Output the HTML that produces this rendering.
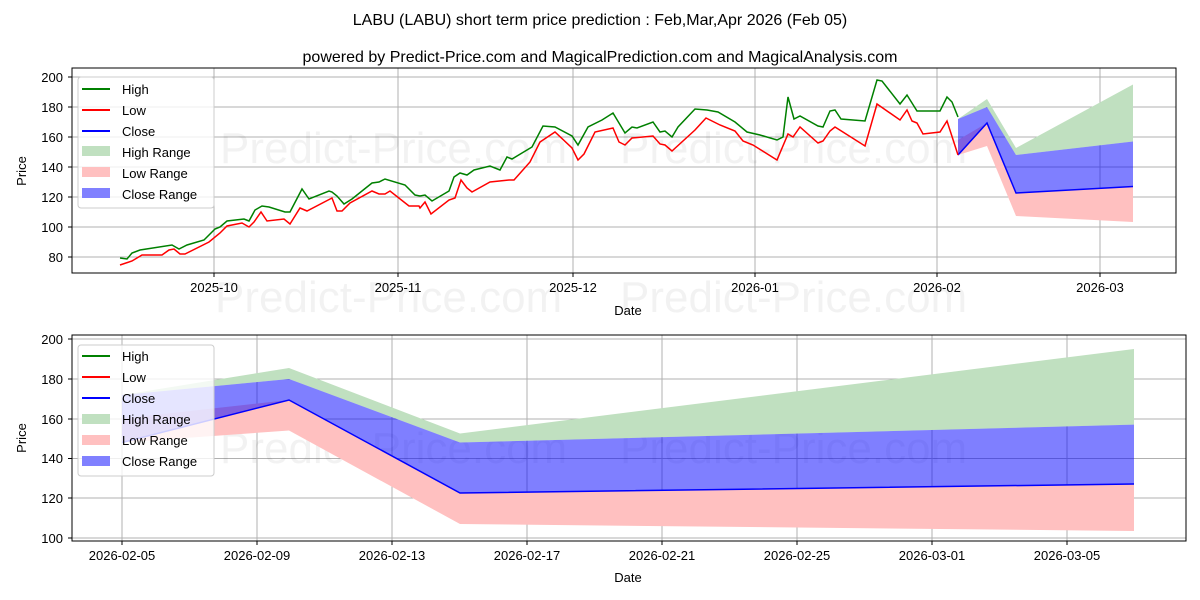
<!DOCTYPE html>
<html><head><meta charset="utf-8"><style>
body{margin:0;background:#fff;}
svg{display:block;font-family:"Liberation Sans","DejaVu Sans",sans-serif;}
</style></head><body>
<svg width="1200" height="600" viewBox="0 0 1200 600">
<rect width="1200" height="600" fill="#fff"/>
<text x="600" y="25" font-size="16" text-anchor="middle">LABU (LABU) short term price prediction : Feb,Mar,Apr 2026 (Feb 05)</text>
<text x="600" y="62" font-size="16" text-anchor="middle">powered by Predict-Price.com and MagicalPrediction.com and MagicalAnalysis.com</text>

<!-- TOP CHART -->
<g stroke="#b0b0b0" stroke-width="1">
<line x1="72" x2="1176" y1="257" y2="257"/><line x1="72" x2="1176" y1="227" y2="227"/><line x1="72" x2="1176" y1="197" y2="197"/><line x1="72" x2="1176" y1="167" y2="167"/><line x1="72" x2="1176" y1="137" y2="137"/><line x1="72" x2="1176" y1="107" y2="107"/><line x1="72" x2="1176" y1="77" y2="77"/>
<line x1="214" x2="214" y1="68" y2="273"/><line x1="398" x2="398" y1="68" y2="273"/><line x1="573" x2="573" y1="68" y2="273"/><line x1="755" x2="755" y1="68" y2="273"/><line x1="937" x2="937" y1="68" y2="273"/><line x1="1100" x2="1100" y1="68" y2="273"/>
</g>
<text x="220" y="163" font-size="44" fill="#000" fill-opacity="0.05">Predict-Price.com</text>
<text x="620" y="163" font-size="44" fill="#000" fill-opacity="0.05">Predict-Price.com</text>
<text x="215" y="312" font-size="44" fill="#000" fill-opacity="0.05">Predict-Price.com</text>
<text x="620" y="312" font-size="44" fill="#000" fill-opacity="0.05">Predict-Price.com</text>
<polygon points="958,119 987,107 1016,155 1133,141.5 1133,84.5 1016,148 987,99 958,119" fill="#c0e0c0"/>
<polygon points="958,155 987,146 1016,216 1133,222 1133,186.5 1016,193 987,123 958,140" fill="#ffc0c0"/>
<polygon points="958,155 987,123 1016,193 1133,186.5 1133,141.5 1016,155 987,107 958,119" fill="#0000ff" fill-opacity="0.5"/>
<polyline fill="none" stroke="#0000ff" stroke-width="1.5" points="958,155 987,123 1016,193 1133,186.5"/>
<polyline fill="none" stroke="#008000" stroke-width="1.5" points="120,258 127,259 132,253 140,250 172,245 179,249 187,245 204,240 215,229 220,227 227,221 244,219 249,221 255,210 262,206 269,207 285,212 290,212 302,189 309,199 329,191 332,192 337,196 344,204 352,199 372,183 379,182 385,179 405,185 415,195 420,196 425,195 432,201 449,191 454,177 460,173 467,175 474,170 490,166 500,170 507,157 512,159 522,153 532,147 543,126 555,127 572,136 578,145 588,127 602,120 613,113 625,133 632,127 637,128 653,122 660,132 665,131 672,137 678,127 695,109 707,110 718,112 735,122 747,132 760,135 777,140 783,137 788,97 794,119 800,116 818,126 823,127 830,111 835,110 841,119 865,121 877,80 882,81 900,104 907,95 917,111 940,111 947,97 952,102 958,117"/>
<polyline fill="none" stroke="#ff0000" stroke-width="1.5" points="120,265 132,261 142,255 162,255 169,250 174,249 180,254 185,254 209,242 220,233 227,226 242,223 249,227 254,222 261,212 267,221 284,219 290,224 300,208 307,211 332,198 337,211 342,211 350,203 372,191 379,194 385,194 390,191 409,206 419,206 420,208 425,202 431,214 449,200 455,198 461,180 467,188 472,192 490,182 509,180 514,180 522,171 530,162 540,142 555,132 572,148 578,160 584,154 595,132 613,128 619,142 625,145 632,138 653,136 660,144 665,145 672,151 695,130 706,118 720,125 735,131 743,141 753,145 777,160 788,134 793,137 800,127 818,143 823,141 830,131 835,127 865,146 877,104 900,120 907,110 912,121 917,123 923,134 940,132 947,121 958,155"/>
<rect x="72" y="68" width="1104" height="205" fill="none" stroke="#000" stroke-width="1"/>
<g font-size="13" text-anchor="end">
<text x="63" y="262">80</text><text x="63" y="232">100</text><text x="63" y="202">120</text><text x="63" y="172">140</text><text x="63" y="142">160</text><text x="63" y="112">180</text><text x="63" y="82">200</text>
</g>
<g stroke="#000"><line x1="68" x2="72" y1="257" y2="257"/><line x1="68" x2="72" y1="227" y2="227"/><line x1="68" x2="72" y1="197" y2="197"/><line x1="68" x2="72" y1="167" y2="167"/><line x1="68" x2="72" y1="137" y2="137"/><line x1="68" x2="72" y1="107" y2="107"/><line x1="68" x2="72" y1="77" y2="77"/>
<line x1="214" x2="214" y1="273" y2="277"/><line x1="398" x2="398" y1="273" y2="277"/><line x1="573" x2="573" y1="273" y2="277"/><line x1="755" x2="755" y1="273" y2="277"/><line x1="937" x2="937" y1="273" y2="277"/><line x1="1100" x2="1100" y1="273" y2="277"/></g>
<g font-size="13" text-anchor="middle">
<text x="214" y="292">2025-10</text><text x="398" y="292">2025-11</text><text x="573" y="292">2025-12</text><text x="755" y="292">2026-01</text><text x="937" y="292">2026-02</text><text x="1100" y="292">2026-03</text>
<text x="628" y="315">Date</text>
</g>
<text x="26" y="171" font-size="13" text-anchor="middle" transform="rotate(-90 26 171)">Price</text>
<g>
<rect x="78" y="77" width="136" height="131" rx="3" fill="#fff" fill-opacity="0.8" stroke="#ccc"/>
<line x1="82" x2="110" y1="89" y2="89" stroke="#008000" stroke-width="2"/><text x="122" y="94" font-size="13">High</text>
<line x1="82" x2="110" y1="110" y2="110" stroke="#ff0000" stroke-width="2"/><text x="122" y="115" font-size="13">Low</text>
<line x1="82" x2="110" y1="131" y2="131" stroke="#0000ff" stroke-width="2"/><text x="122" y="136" font-size="13">Close</text>
<rect x="82" y="146" width="28" height="10" fill="#c0e0c0"/><text x="122" y="157" font-size="13">High Range</text>
<rect x="82" y="167" width="28" height="10" fill="#ffc0c0"/><text x="122" y="178" font-size="13">Low Range</text>
<rect x="82" y="188" width="28" height="10" fill="#8080ff"/><text x="122" y="199" font-size="13">Close Range</text>
</g>

<!-- BOTTOM CHART -->
<g stroke="#b0b0b0" stroke-width="1">
<line x1="72" x2="1186" y1="538" y2="538"/><line x1="72" x2="1186" y1="498" y2="498"/><line x1="72" x2="1186" y1="458.5" y2="458.5"/><line x1="72" x2="1186" y1="419" y2="419"/><line x1="72" x2="1186" y1="379" y2="379"/><line x1="72" x2="1186" y1="339" y2="339"/>
<line x1="122" x2="122" y1="335" y2="541"/><line x1="257" x2="257" y1="335" y2="541"/><line x1="392" x2="392" y1="335" y2="541"/><line x1="527" x2="527" y1="335" y2="541"/><line x1="662" x2="662" y1="335" y2="541"/><line x1="797" x2="797" y1="335" y2="541"/><line x1="932" x2="932" y1="335" y2="541"/><line x1="1067" x2="1067" y1="335" y2="541"/>
</g>
<text x="220" y="463" font-size="44" fill="#000" fill-opacity="0.05">Predict-Price.com</text>
<text x="620" y="463" font-size="44" fill="#000" fill-opacity="0.05">Predict-Price.com</text>
<polygon points="122,395 289,379 460,442.5 1134,424.6 1134,349 460,433.5 289,368 122,395" fill="#c0e0c0"/>
<polygon points="122,442.5 289,430.5 460,524 1134,531 1134,484 460,493 289,400 122,418.6" fill="#ffc0c0"/>
<polygon points="122,442.5 289,400 460,493 1134,484 1134,424.6 460,442.5 289,379 122,395" fill="#0000ff" fill-opacity="0.5"/>
<polyline fill="none" stroke="#0000ff" stroke-width="1.5" points="122,442.5 289,400 460,493 1134,484"/>
<rect x="72" y="335" width="1114" height="206" fill="none" stroke="#000" stroke-width="1"/>
<g font-size="13" text-anchor="end">
<text x="63" y="543">100</text><text x="63" y="503">120</text><text x="63" y="463">140</text><text x="63" y="424">160</text><text x="63" y="384">180</text><text x="63" y="344">200</text>
</g>
<g stroke="#000"><line x1="68" x2="72" y1="538" y2="538"/><line x1="68" x2="72" y1="498" y2="498"/><line x1="68" x2="72" y1="458.5" y2="458.5"/><line x1="68" x2="72" y1="419" y2="419"/><line x1="68" x2="72" y1="379" y2="379"/><line x1="68" x2="72" y1="339" y2="339"/>
<line x1="122" x2="122" y1="541" y2="545"/><line x1="257" x2="257" y1="541" y2="545"/><line x1="392" x2="392" y1="541" y2="545"/><line x1="527" x2="527" y1="541" y2="545"/><line x1="662" x2="662" y1="541" y2="545"/><line x1="797" x2="797" y1="541" y2="545"/><line x1="932" x2="932" y1="541" y2="545"/><line x1="1067" x2="1067" y1="541" y2="545"/></g>
<g font-size="13" text-anchor="middle">
<text x="122" y="560">2026-02-05</text><text x="257" y="560">2026-02-09</text><text x="392" y="560">2026-02-13</text><text x="527" y="560">2026-02-17</text><text x="662" y="560">2026-02-21</text><text x="797" y="560">2026-02-25</text><text x="932" y="560">2026-03-01</text><text x="1067" y="560">2026-03-05</text>
<text x="628" y="582">Date</text>
</g>
<text x="26" y="438" font-size="13" text-anchor="middle" transform="rotate(-90 26 438)">Price</text>
<g>
<rect x="78" y="345" width="136" height="131" rx="3" fill="#fff" fill-opacity="0.8" stroke="#ccc"/>
<line x1="82" x2="110" y1="356" y2="356" stroke="#008000" stroke-width="2"/><text x="122" y="361" font-size="13">High</text>
<line x1="82" x2="110" y1="377" y2="377" stroke="#ff0000" stroke-width="2"/><text x="122" y="382" font-size="13">Low</text>
<line x1="82" x2="110" y1="398" y2="398" stroke="#0000ff" stroke-width="2"/><text x="122" y="403" font-size="13">Close</text>
<rect x="82" y="414" width="28" height="10" fill="#c0e0c0"/><text x="122" y="424" font-size="13">High Range</text>
<rect x="82" y="435" width="28" height="10" fill="#ffc0c0"/><text x="122" y="445" font-size="13">Low Range</text>
<rect x="82" y="456" width="28" height="10" fill="#8080ff"/><text x="122" y="466" font-size="13">Close Range</text>
</g>
</svg>
</body></html>
